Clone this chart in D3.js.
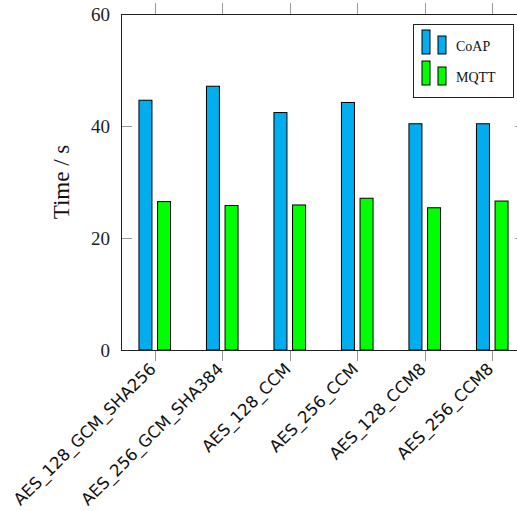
<!DOCTYPE html>
<html>
<head>
<meta charset="utf-8">
<script src="https://cdn.jsdelivr.net/npm/d3@7"></script>
<style>
  html, body { margin: 0; padding: 0; background: #fff; }
  svg { display: block; }
</style>
</head>
<body>
<svg id="chart" width="517" height="511"></svg>
<script>
const categories = ["AES_128_GCM_SHA256", "AES_256_GCM_SHA384", "AES_128_CCM", "AES_256_CCM", "AES_128_CCM8", "AES_256_CCM8"];
const seriesNames = ["CoAP", "MQTT"];
const coapValues = [44.6, 47.1, 42.4, 44.2, 40.4, 40.4];
const mqttValues = [26.5, 25.8, 25.9, 27.1, 25.4, 26.6];
const yTicks = [0, 20, 40, 60];
const colors = { CoAP: "#00AEEF", MQTT: "#00FF00" };

const svg = d3.select("#chart");
const pLeft = 121, pRight = 526, pTop = 14, pBottom = 350;

const x = d3.scalePoint().domain(categories).range([pLeft, pRight]).padding(0.5);
const y = d3.scaleLinear().domain([0, 60]).range([pBottom, pTop]);

const barW = 13, off = 9.3;
const serifFont = "'Liberation Serif', 'Times New Roman', serif";
const sansFont = "'DejaVu Sans', sans-serif";

// bars
const series = [
  { name: "CoAP", values: coapValues, dx: -off },
  { name: "MQTT", values: mqttValues, dx: off }
];
series.forEach(s => {
  svg.append("g").selectAll("rect").data(s.values).join("rect")
    .attr("x", (d, i) => x(categories[i]) + s.dx - barW / 2)
    .attr("y", d => y(d))
    .attr("width", barW)
    .attr("height", d => y(0) - y(d))
    .attr("fill", colors[s.name])
    .attr("stroke", "#000")
    .attr("stroke-width", 1);
});

// y ticks (inside, gray) left and right
const tickColor = "#999";
const gy = svg.append("g");
yTicks.forEach(t => {
  if (t === 0 || t === 60) return;
  gy.append("line").attr("x1", pLeft).attr("x2", pLeft + 11)
    .attr("y1", Math.round(y(t)) + 0.5).attr("y2", Math.round(y(t)) + 0.5)
    .attr("stroke", tickColor).attr("stroke-width", 1);
  gy.append("line").attr("x1", pRight - 11).attr("x2", pRight)
    .attr("y1", Math.round(y(t)) + 0.5).attr("y2", Math.round(y(t)) + 0.5)
    .attr("stroke", tickColor).attr("stroke-width", 1);
});
gy.selectAll("text").data(yTicks).join("text")
  .attr("x", 110).attr("y", d => y(d))
  .attr("dy", "0.35em")
  .attr("text-anchor", "end")
  .attr("font-family", serifFont)
  .attr("font-size", 19)
  .attr("fill", "#222")
  .text(d => d);

// x ticks top (outside up) and bottom (outside down)
const gx = svg.append("g");
categories.forEach(c => {
  const xx = Math.round(x(c)) + 0.5;
  gx.append("line").attr("x1", xx).attr("x2", xx).attr("y1", pTop - 11).attr("y2", pTop)
    .attr("stroke", tickColor);
  gx.append("line").attr("x1", xx).attr("x2", xx).attr("y1", pBottom).attr("y2", pBottom + 11)
    .attr("stroke", tickColor);
});
gx.selectAll("text").data(categories).join("text")
  .attr("transform", d => `translate(${x(d) - 2},${366}) rotate(-45)`)
  .attr("dy", "0.35em")
  .attr("text-anchor", "end")
  .attr("font-family", sansFont)
  .attr("font-size", 16.5)
  .attr("fill", "#111")
  .text(d => d);

// frame
svg.append("rect")
  .attr("x", pLeft + 0.5).attr("y", pTop + 0.5)
  .attr("width", pRight - pLeft).attr("height", pBottom - pTop)
  .attr("fill", "none").attr("stroke", "#222").attr("stroke-width", 1);

// y label
svg.append("text")
  .attr("transform", `translate(69,${(pTop + pBottom) / 2}) rotate(-90)`)
  .attr("text-anchor", "middle")
  .attr("font-family", serifFont)
  .attr("font-size", 23)
  .attr("fill", "#111")
  .text("Time / s");

// legend
const lg = svg.append("g");
lg.append("rect").attr("x", 413.5).attr("y", 24.5).attr("width", 100).attr("height", 73)
  .attr("fill", "#fff").attr("stroke", "#222");
seriesNames.forEach((n, i) => {
  const y0 = 30 + i * 31;
  lg.append("rect").attr("x", 422).attr("y", y0).attr("width", 8).attr("height", 24)
    .attr("fill", colors[n]).attr("stroke", "#000");
  lg.append("rect").attr("x", 438).attr("y", y0 + 6).attr("width", 8).attr("height", 18)
    .attr("fill", colors[n]).attr("stroke", "#000");
  lg.append("text").attr("x", 456).attr("y", y0 + 21)
    .attr("font-family", serifFont).attr("font-size", 14).attr("fill", "#111")
    .text(n);
});
</script>
</body>
</html>
